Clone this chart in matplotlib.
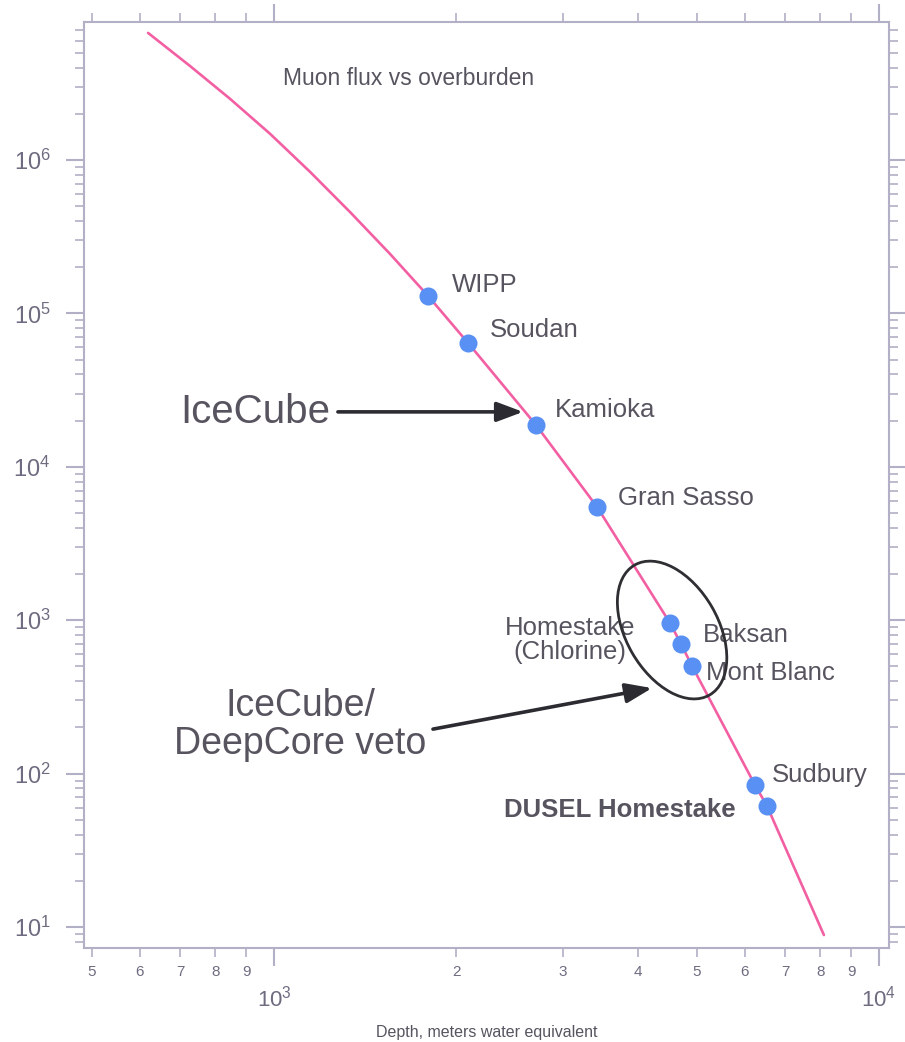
import numpy as np
import matplotlib
matplotlib.use('Agg')
import matplotlib.pyplot as plt
import matplotlib.ticker as mticker
import matplotlib.transforms as mtransforms
from matplotlib.patches import Ellipse

plt.rcParams['font.family'] = ['Liberation Sans', 'DejaVu Sans']
plt.rcParams['mathtext.default'] = 'regular'

# ---- data ----
curve_depth = [619, 726, 846, 985, 1147, 1335, 1555, 1797, 2093, 2711, 3420,
               4513, 4707, 4909, 6237, 6530, 8110]
curve_flux = [6.73e6, 4.10e6, 2.50e6, 1.48e6, 8.36e5, 4.58e5, 2.44e5, 1.30e5, 6.41e4,
              1.87e4, 5470, 960, 700, 503, 84.4, 61.5, 8.87]

site_names = ['WIPP', 'Soudan', 'Kamioka', 'Gran Sasso', 'Homestake\n(Chlorine)',
              'Baksan', 'Mont Blanc', 'Sudbury', 'DUSEL Homestake']
site_depth = [1800, 2090, 2710, 3420, 4510, 4710, 4910, 6240, 6530]
site_flux = [1.30e5, 6.4e4, 1.87e4, 5470, 960, 700, 503, 84, 61.5]

# label anchor positions (data coords) and alignment
label_x = [1968, 2275, 2914, 3704, 3084, 5117, 5176, 6653, 5802]
label_y = [1.53e5, 7.8e4, 2.35e4, 6260, 743, 801, 453, 98, 58]
label_ha = ['left', 'left', 'left', 'left', 'center', 'left', 'left', 'left', 'right']
label_weight = ['normal'] * 8 + ['bold']

x_major_ticks = [1000, 10000]
x_major_labels = ['$10^3$', '$10^4$']
x_minor_ticks = [500, 600, 700, 800, 900, 2000, 3000, 4000, 5000, 6000, 7000, 8000, 9000]
x_minor_labels = ['5', '6', '7', '8', '9', '2', '3', '4', '5', '6', '7', '8', '9']
y_major_ticks = [1e1, 1e2, 1e3, 1e4, 1e5, 1e6]
y_major_labels = ['$10^1$', '$10^2$', '$10^3$', '$10^4$', '$10^5$', '$10^6$']

xlim = (485, 10390)
ylim = (7.3, 7.93e6)

# annotation geometry (data coords)
icecube_text_xy = (1238, 2.28e4)
icecube_arrow_start = (1275, 2.28e4)
icecube_arrow_end = (2580, 2.28e4)
veto_text_xy = (1104, 207)
veto_arrow_start = (1831, 195)
veto_arrow_end = (4215, 361)
ellipse_center = (4550, 863)
title_xy = (1035, 3.42e6)

# ---- style ----
spine_c = '#b2b0c6'
text_c = '#57545f'
tick_c = '#6f6b80'
line_c = '#f25fa2'
dot_c = '#5990f3'
arrow_c = '#2c2b31'

fig = plt.figure(figsize=(9.05, 10.42), dpi=100)
ax = fig.add_axes([84 / 905, 1 - 948 / 1042, (889 - 84) / 905, (948 - 22) / 1042])
ax.set_xscale('log')
ax.set_yscale('log')
ax.set_xlim(*xlim)
ax.set_ylim(*ylim)

ax.plot(curve_depth, curve_flux, color=line_c, lw=1.9, zorder=2,
        solid_capstyle='round', solid_joinstyle='round')
ax.plot(site_depth, site_flux, 'o', color=dot_c, ms=13, mec='none', zorder=3)

for name, lx, ly, ha, w in zip(site_names, label_x, label_y, label_ha, label_weight):
    ax.text(lx, ly, name, ha=ha, va='center', fontsize=18.5, color=text_c,
            fontweight=w, linespacing=0.95, zorder=4)

ax.text(*title_xy, 'Muon flux vs overburden', ha='left', va='center', fontsize=16.5,
        color=text_c)

ax.text(*icecube_text_xy, 'IceCube', ha='right', va='center', fontsize=29, color=text_c)
ax.text(*veto_text_xy, 'IceCube/\nDeepCore veto', ha='center', va='center', fontsize=27,
        color=text_c, linespacing=1.05)

arrow_props = dict(arrowstyle='-|>,head_length=0.8,head_width=0.3', color=arrow_c,
                   lw=2.6, mutation_scale=20, shrinkA=0, shrinkB=0)
ax.annotate('', xy=icecube_arrow_end, xytext=icecube_arrow_start, arrowprops=arrow_props,
            zorder=5)
ax.annotate('', xy=veto_arrow_end, xytext=veto_arrow_start, arrowprops=arrow_props,
            zorder=5)

# ellipse drawn in physical units around a data-coordinate centre
cdisp = ax.transData.transform(ellipse_center)
etrans = fig.dpi_scale_trans + mtransforms.Affine2D().translate(*cdisp)
ax.add_patch(Ellipse((0, 0), width=1.5, height=0.92, angle=120, transform=etrans,
                     fill=False, ec='#2f2e33', lw=2.0, zorder=5, clip_on=False))

# ---- axes ----
ax.xaxis.set_major_locator(mticker.FixedLocator(x_major_ticks))
ax.xaxis.set_major_formatter(mticker.FixedFormatter(x_major_labels))
ax.xaxis.set_minor_locator(mticker.FixedLocator(x_minor_ticks))
ax.xaxis.set_minor_formatter(mticker.FixedFormatter(x_minor_labels))
ax.yaxis.set_major_locator(mticker.FixedLocator(y_major_ticks))
ax.yaxis.set_major_formatter(mticker.FixedFormatter(y_major_labels))
ax.yaxis.set_minor_locator(mticker.LogLocator(base=10, subs=np.arange(2, 10)))
ax.yaxis.set_minor_formatter(mticker.NullFormatter())

for s in ax.spines.values():
    s.set_color(spine_c)
    s.set_linewidth(1.5)

ax.tick_params(which='both', direction='out', top=True, right=True, color=spine_c,
               labelcolor=tick_c)
ax.tick_params(axis='x', which='major', length=13, width=1.5, pad=14, labelsize=16)
ax.tick_params(axis='x', which='minor', length=6.5, width=1.2, pad=6, labelsize=11)
ax.tick_params(axis='y', which='major', length=13, width=1.5, pad=11, labelsize=17)
ax.tick_params(axis='y', which='minor', length=6.5, width=1.2)

ax.set_xlabel('Depth, meters water equivalent', fontsize=11.5, color=text_c, labelpad=10)

fig.savefig('out.png', dpi=100)
